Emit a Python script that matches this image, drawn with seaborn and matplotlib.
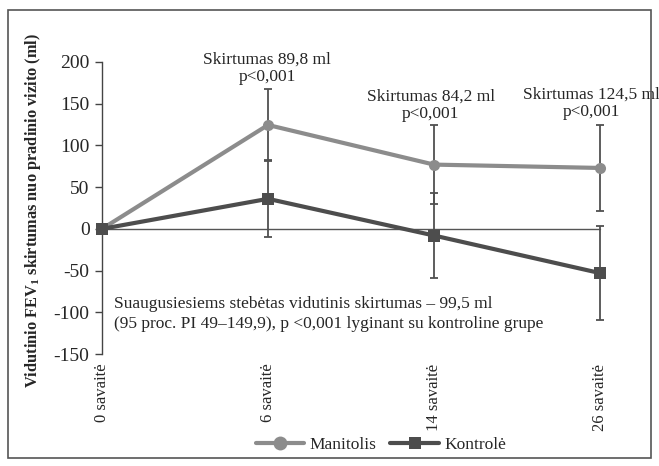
import matplotlib
matplotlib.use("Agg")
import matplotlib.pyplot as plt
import seaborn as sns
import pandas as pd
from matplotlib.lines import Line2D
from matplotlib.patches import Rectangle

weeks = ["0 savaitė", "6 savaitė", "14 savaitė", "26 savaitė"]
manitolis = [0, 124.5, 77, 73]
manitolis_err = [0, 43, 47, 51.5]
kontrole = [0, 36, -8, -53]
kontrole_err = [0, 46, 51, 56]
yticks = [-150, -100, -50, 0, 50, 100, 150, 200]
diff_labels = ["Skirtumas 89,8 ml\np<0,001", "Skirtumas 84,2 ml\np<0,001", "Skirtumas 124,5 ml\np<0,001"]
note = "Suaugusiesiems stebėtas vidutinis skirtumas – 99,5 ml\n(95 proc. PI 49–149,9), p <0,001 lyginant su kontroline grupe"

sns.set_style("white")
plt.rcParams['font.family'] = ['Liberation Serif', 'DejaVu Serif']
plt.rcParams['mathtext.fontset'] = 'custom'
plt.rcParams['mathtext.rm'] = 'Liberation Serif'
plt.rcParams['mathtext.bf'] = 'Liberation Serif:bold'

c_man = "#8c8c8c"
c_kon = "#4d4d4d"
c_err = "#505050"

df = pd.DataFrame({
    "x": list(range(4)) * 2,
    "y": manitolis + kontrole,
    "grp": ["Manitolis"] * 4 + ["Kontrolė"] * 4,
})

fig = plt.figure(figsize=(6.59, 4.66), dpi=100)
ax = fig.add_axes([0.1548, 0.2403, 0.7557, 0.6267])

xs = list(range(4))
ax.errorbar(xs, manitolis, yerr=manitolis_err, fmt="none", ecolor=c_err, elinewidth=1.3, capsize=3, capthick=1.3, zorder=2, clip_on=False)
ax.errorbar(xs, kontrole, yerr=kontrole_err, fmt="none", ecolor=c_err, elinewidth=1.3, capsize=3, capthick=1.3, zorder=2, clip_on=False)

ax.axhline(0, color="#555555", lw=1.0, zorder=1)

sns.lineplot(data=df, x="x", y="y", hue="grp", style="grp",
             palette={"Manitolis": c_man, "Kontrolė": c_kon},
             markers={"Manitolis": "o", "Kontrolė": "s"}, dashes=False,
             markersize=8, markeredgewidth=0, linewidth=3, legend=False, ax=ax,
             zorder=3, clip_on=False)
for ln in ax.lines:
    ln.set_clip_on(False)

ax.set_xlim(0, 3)
ax.set_ylim(-150, 200)
ax.set_yticks(yticks)
ax.set_yticklabels([str(v) for v in yticks], fontsize=14)
ax.set_xticks(xs)
ax.set_xticklabels(weeks, rotation=90, fontsize=12, va="top", ha="center")
ax.set_xlabel("")
ax.tick_params(axis="x", length=0, pad=7)
ax.tick_params(axis="y", length=5, width=1, color="#444444", left=True, direction="out", pad=4)
for s in ["top", "right", "bottom"]:
    ax.spines[s].set_visible(False)
ax.spines["left"].set_color("#444444")
ax.spines["left"].set_linewidth(1.0)

ax.set_ylabel("Vidutinio FEV$_\\mathbf{1}$ skirtumas nuo pradinio vizito (ml)", fontsize=11.8, fontweight="bold")
ax.yaxis.set_label_coords(-0.118, 0.49)

text_pos = [(0.995, 212), (1.98, 168), (2.95, 170)]
for (tx, ty), lab in zip(text_pos, diff_labels):
    ax.text(tx, ty, lab, ha="center", va="top", fontsize=12.5, linespacing=1.1)

ax.text(0.075, -102, note, ha="left", va="center", fontsize=12.5, linespacing=1.3)

handles = [Line2D([0], [0], color=c_man, lw=3, marker="o", markersize=10, markeredgewidth=0),
           Line2D([0], [0], color=c_kon, lw=3, marker="s", markersize=9, markeredgewidth=0)]
fig.legend(handles, ["Manitolis", "Kontrolė"], loc="center", bbox_to_anchor=(0.578, 0.045),
           ncol=2, frameon=False, fontsize=12.5, handlelength=2.8, columnspacing=0.8, handletextpad=0.3)

fig.patches.append(Rectangle((0.012, 0.017), 0.976, 0.962, transform=fig.transFigure,
                             fill=False, edgecolor="#555555", lw=1.2))

fig.savefig("out.png", dpi=100)
